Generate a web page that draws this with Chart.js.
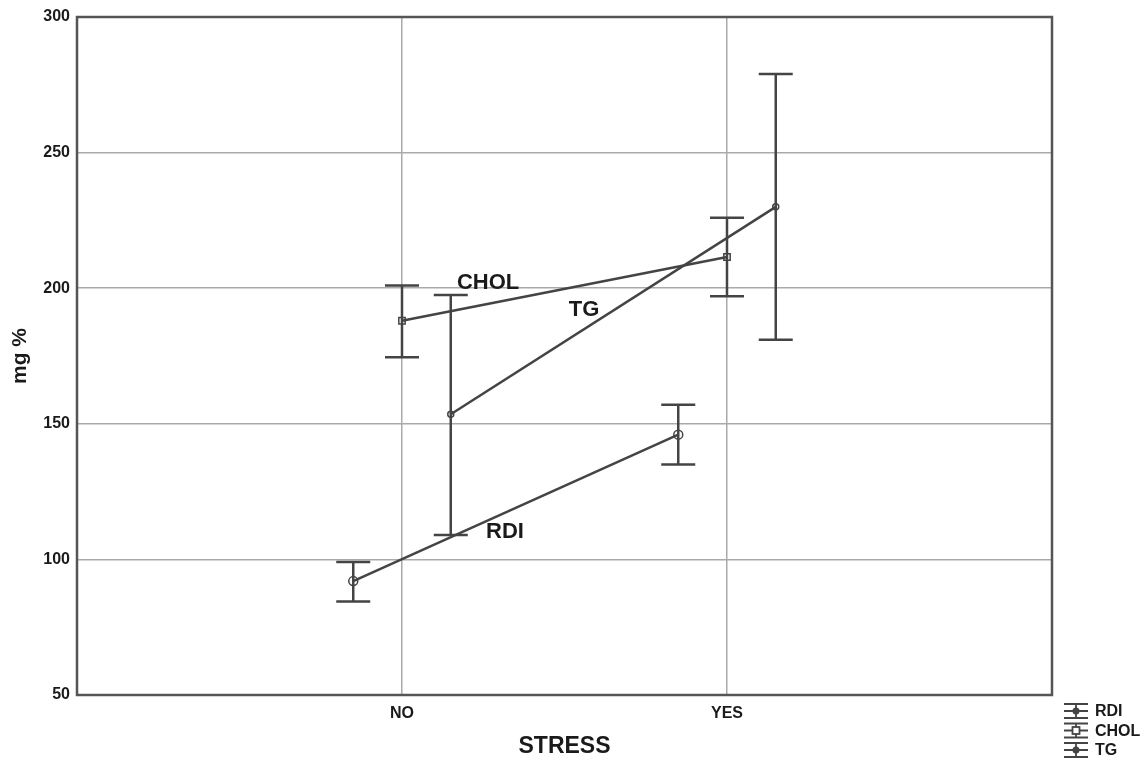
<!DOCTYPE html>
<html>
<head>
<meta charset="utf-8">
<script src="https://cdn.jsdelivr.net/npm/chart.js@4.4.1/dist/chart.umd.min.js"></script>
<style>
  html, body { margin: 0; padding: 0; background: #fff; }
  #wrap { width: 1148px; height: 760px; }
</style>
</head>
<body>
<div id="wrap"><canvas id="chart" width="1148" height="760"></canvas></div>
<script>
// categories on the x axis
const categories = ["NO", "YES"];
const yTicks = [50, 100, 150, 200, 250, 300];

// mean values with lower / upper error bar ends (mg %)
const seriesNames = ["RDI", "CHOL", "TG"];
const rdiMean = [92, 146];
const rdiLow = [84.5, 135];
const rdiHigh = [99, 157];
const cholMean = [188, 211.5];
const cholLow = [174.5, 197];
const cholHigh = [201, 226];
const tgMean = [153.5, 230];
const tgLow = [109, 181];
const tgHigh = [197.5, 279];

const lineColor = "#444";
const textFont = "'Liberation Sans', Arial, sans-serif";
const OFFSET = 0.15; // dodge between the three series

function makeSeries(mean, low, high, shift) {
  return mean.map((v, i) => ({ x: i + shift, y: v, lo: low[i], hi: high[i] }));
}

const datasets = [
  { label: "RDI", data: makeSeries(rdiMean, rdiLow, rdiHigh, -OFFSET), pointStyle: "circle", pointRadius: 4.5 },
  { label: "CHOL", data: makeSeries(cholMean, cholLow, cholHigh, 0), pointStyle: "rect", pointRadius: 4.5 },
  { label: "TG", data: makeSeries(tgMean, tgLow, tgHigh, OFFSET), pointStyle: "circle", pointRadius: 3 },
].map((d) => ({
  ...d,
  showLine: true,
  borderColor: lineColor,
  borderWidth: 2.5,
  backgroundColor: "rgba(0,0,0,0)",
  pointBorderColor: lineColor,
  pointBorderWidth: 1.5,
  pointBackgroundColor: "rgba(255,255,255,0)",
}));

// in-plot labels anchored in data coordinates
const noteText = ["CHOL", "TG", "RDI"];
const noteX = [0.265, 0.56, 0.317];
const noteY = [202, 192, 110];

// error bars, notes, frame and legend
const errorBars = {
  id: "errorBars",
  afterDatasetsDraw(chart) {
    const { ctx, scales } = chart;
    ctx.save();
    ctx.strokeStyle = lineColor;
    ctx.lineWidth = 2.5;
    chart.data.datasets.forEach((ds) => {
      ds.data.forEach((p) => {
        const x = scales.x.getPixelForValue(p.x);
        const yLo = scales.y.getPixelForValue(p.lo);
        const yHi = scales.y.getPixelForValue(p.hi);
        ctx.beginPath();
        ctx.moveTo(x, yLo);
        ctx.lineTo(x, yHi);
        ctx.moveTo(x - 17, yLo);
        ctx.lineTo(x + 17, yLo);
        ctx.moveTo(x - 17, yHi);
        ctx.lineTo(x + 17, yHi);
        ctx.stroke();
      });
    });

    // labels inside the plot
    ctx.fillStyle = "#1a1a1a";
    ctx.font = "bold 22px " + textFont;
    ctx.textAlign = "center";
    ctx.textBaseline = "middle";
    noteText.forEach((t, i) => {
      ctx.fillText(t, scales.x.getPixelForValue(noteX[i]), scales.y.getPixelForValue(noteY[i]));
    });

    // frame
    const a = chart.chartArea;
    ctx.strokeStyle = "#555";
    ctx.lineWidth = 2.5;
    ctx.strokeRect(a.left, a.top, a.right - a.left, a.bottom - a.top);

    // legend bottom right
    ctx.font = "bold 16px " + textFont;
    ctx.textAlign = "left";
    seriesNames.forEach((name, i) => {
      const cy = 711 + i * 19.5;
      const cx = 1076;
      ctx.strokeStyle = lineColor;
      ctx.lineWidth = 1.8;
      ctx.beginPath();
      ctx.moveTo(cx, cy - 7);
      ctx.lineTo(cx, cy + 7);
      [-7, 0, 7].forEach((dy) => {
        ctx.moveTo(cx - 12, cy + dy);
        ctx.lineTo(cx + 12, cy + dy);
      });
      ctx.stroke();
      if (name === "CHOL") {
        ctx.fillStyle = "#fff";
        ctx.fillRect(cx - 3.5, cy - 3.5, 7, 7);
        ctx.strokeRect(cx - 3.5, cy - 3.5, 7, 7);
      } else {
        ctx.fillStyle = lineColor;
        ctx.beginPath();
        ctx.arc(cx, cy, 3.5, 0, Math.PI * 2);
        ctx.fill();
      }
      ctx.fillStyle = "#1a1a1a";
      ctx.fillText(name, cx + 19, cy + 1);
    });
    ctx.restore();
  },
};

new Chart(document.getElementById("chart"), {
  type: "scatter",
  data: { datasets },
  plugins: [errorBars],
  options: {
    responsive: false,
    animation: false,
    layout: { padding: { top: 17, right: 96, bottom: 0, left: 0 } },
    plugins: { legend: { display: false }, tooltip: { enabled: false } },
    scales: {
      x: {
        type: "linear",
        min: -1,
        max: 2,
        afterBuildTicks(scale) {
          scale.ticks = categories.map((c, i) => ({ value: i }));
        },
        afterFit(scale) { scale.height = 65; },
        ticks: {
          callback: (v) => categories[v] ?? "",
          color: "#1a1a1a",
          font: { family: textFont, size: 16, weight: "bold" },
          padding: 9,
          maxRotation: 0,
        },
        grid: { color: "#aaa", lineWidth: 1.5, drawTicks: false },
        border: { display: false },
        title: {
          display: true,
          text: "STRESS",
          color: "#1a1a1a",
          font: { family: textFont, size: 23, weight: "bold" },
          padding: { top: 4, bottom: 0 },
        },
      },
      y: {
        min: 50,
        max: 300,
        afterBuildTicks(scale) {
          scale.ticks = yTicks.map((v) => ({ value: v }));
        },
        afterFit(scale) { scale.width = 77; },
        ticks: {
          color: "#1a1a1a",
          font: { family: textFont, size: 16, weight: "bold" },
          padding: 7,
        },
        grid: { color: "#aaa", lineWidth: 1.5, drawTicks: false },
        border: { display: false },
        title: {
          display: true,
          text: "mg %",
          color: "#1a1a1a",
          font: { family: textFont, size: 21, weight: "bold" },
          padding: { top: 8, bottom: 0 },
        },
      },
    },
  },
});
</script>
</body>
</html>
